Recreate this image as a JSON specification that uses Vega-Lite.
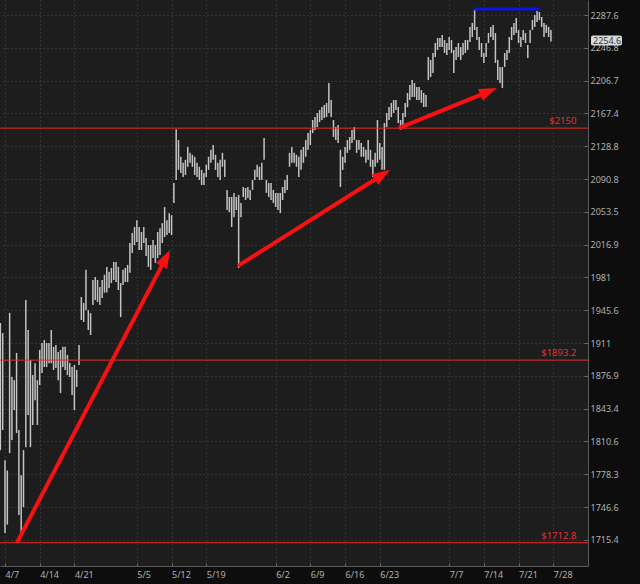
{
  "$schema": "https://vega.github.io/schema/vega-lite/v6.json",
  "width": 588,
  "height": 566,
  "autosize": {"type": "none"},
  "padding": {"left": 0, "top": 0, "right": 52, "bottom": 18},
  "background": "#0d0d0d",
  "config": {
    "view": {"fill": "#1d1d1d", "stroke": null},
    "font": "Noto Sans",
    "axis": {"labelFont": "Noto Sans", "labelFontSize": 9, "labelColor": "#b0b0b0", "domainColor": "#5a5a5a", "tickColor": "#6a6a6a", "gridColor": "#4a4a4a", "gridDash": [1, 3], "gridWidth": 1, "labelBound": false}
  },
  "datasets": {
    "bars": [
      {"i":-2,"h":1932,"l":1802},{"i":-1,"h":1921.5,"l":1822},{"i":0,"h":1792,"l":1722},{"i":1,"h":1782,"l":1730},{"i":2,"h":1943,"l":1799},{"i":3,"h":1875.7,"l":1812},{"i":4,"h":1872.5,"l":1842},{"i":5,"h":1900.7,"l":1819},{"i":6,"h":1822,"l":1739},{"i":7,"h":1777.5,"l":1722},{"i":8,"h":1802,"l":1746.6},{"i":9,"h":1956.6,"l":1805},{"i":10,"h":1924.7,"l":1837},{"i":11,"h":1893.4,"l":1805},{"i":12,"h":1877.8,"l":1827},{"i":13,"h":1890,"l":1852},{"i":14,"h":1872.5,"l":1827},{"i":15,"h":1903.8,"l":1867.5},{"i":16,"h":1911,"l":1880},{"i":17,"h":1914.2,"l":1886},{"i":18,"h":1911,"l":1886},{"i":19,"h":1911,"l":1890},{"i":20,"h":1924.7,"l":1890},{"i":21,"h":1907,"l":1883},{"i":22,"h":1909,"l":1885},{"i":23,"h":1901.7,"l":1872.5},{"i":24,"h":1903.8,"l":1859.4},{"i":25,"h":1907,"l":1886},{"i":26,"h":1907,"l":1883},{"i":27,"h":1898.6,"l":1877.8},{"i":28,"h":1890.3,"l":1875.7},{"i":29,"h":1886.1,"l":1857.3},{"i":30,"h":1888.2,"l":1842},{"i":31,"h":1883,"l":1865.5},{"i":32,"h":1909,"l":1888.2},{"i":33,"h":1959.8,"l":1935.3},{"i":34,"h":1953.4,"l":1933.2},{"i":35,"h":1989.3,"l":1945.8},{"i":36,"h":1945.8,"l":1924.7},{"i":37,"h":1942.6,"l":1919.4},{"i":38,"h":1978.2,"l":1951.2},{"i":39,"h":1981.4,"l":1956.6},{"i":40,"h":1978.2,"l":1954.4},{"i":41,"h":1970.6,"l":1951.2},{"i":42,"h":1978.2,"l":1958.8},{"i":43,"h":1983.9,"l":1964.6},{"i":44,"h":1992.5,"l":1964.6},{"i":45,"h":1987.1,"l":1969.5},{"i":46,"h":1991.4,"l":1974.9},{"i":47,"h":1997.9,"l":1978.2},{"i":48,"h":1997.9,"l":1976},{"i":49,"h":1992.5,"l":1967.4},{"i":50,"h":1975,"l":1938.4},{"i":51,"h":1989.3,"l":1972.8},{"i":52,"h":1991.4,"l":1976},{"i":53,"h":1994.7,"l":1976},{"i":54,"h":2018.7,"l":1986.1},{"i":55,"h":2029.8,"l":2007.7},{"i":56,"h":2036.5,"l":2016.5},{"i":57,"h":2044.2,"l":2019.8},{"i":58,"h":2036.5,"l":2011},{"i":59,"h":2031,"l":2011},{"i":60,"h":2036.5,"l":2018.7},{"i":61,"h":2024.2,"l":2004.5},{"i":62,"h":2016.5,"l":1992.5},{"i":63,"h":2016.5,"l":1989.3},{"i":64,"h":2022,"l":2002.3},{"i":65,"h":2016.5,"l":1996.9},{"i":66,"h":2031,"l":2002.3},{"i":67,"h":2035.3,"l":2005.6},{"i":68,"h":2040.9,"l":2018.7},{"i":69,"h":2058.9,"l":2025.3},{"i":70,"h":2044.2,"l":2027.6},{"i":71,"h":2052.1,"l":2029.8},{"i":72,"h":2049.8,"l":2027.6},{"i":73,"h":2086.3,"l":2063.6},{"i":74,"h":2148.8,"l":2089.7},{"i":75,"h":2136,"l":2101.4},{"i":76,"h":2116.5,"l":2097.8},{"i":77,"h":2109.5,"l":2093.2},{"i":78,"h":2113,"l":2095.5},{"i":79,"h":2127.9,"l":2104.9},{"i":80,"h":2121.1,"l":2109.5},{"i":81,"h":2118.8,"l":2104.9},{"i":82,"h":2116.5,"l":2095.5},{"i":83,"h":2109.5,"l":2093.2},{"i":84,"h":2104.9,"l":2089.7},{"i":85,"h":2101.4,"l":2084},{"i":86,"h":2097.8,"l":2084},{"i":87,"h":2107.2,"l":2093.2},{"i":88,"h":2116.5,"l":2101.4},{"i":89,"h":2124.6,"l":2109.5},{"i":90,"h":2130.2,"l":2113},{"i":91,"h":2118.8,"l":2101.4},{"i":92,"h":2109.5,"l":2093.2},{"i":93,"h":2113,"l":2089.7},{"i":94,"h":2121.1,"l":2104.9},{"i":95,"h":2113,"l":2093.2},{"i":96,"h":2078.4,"l":2055.6},{"i":97,"h":2070.4,"l":2053.3},{"i":98,"h":2070.4,"l":2036.5},{"i":99,"h":2074.9,"l":2047.5},{"i":100,"h":2070.4,"l":2055.6},{"i":101,"h":2072.7,"l":1991.4},{"i":102,"h":2063.6,"l":2047.5},{"i":103,"h":2081.7,"l":2070.4},{"i":104,"h":2080.6,"l":2067},{"i":105,"h":2081.7,"l":2069.3},{"i":106,"h":2078.4,"l":2067},{"i":107,"h":2089.7,"l":2078.4},{"i":108,"h":2101.4,"l":2089.7},{"i":109,"h":2107.2,"l":2093.2},{"i":110,"h":2104.9,"l":2089.7},{"i":111,"h":2109.5,"l":2089.7},{"i":112,"h":2138.4,"l":2113},{"i":113,"h":2089.7,"l":2075},{"i":114,"h":2086.3,"l":2070.4},{"i":115,"h":2086.3,"l":2067},{"i":116,"h":2078.4,"l":2063.6},{"i":117,"h":2074.9,"l":2059},{"i":118,"h":2074.9,"l":2055.6},{"i":119,"h":2074.9,"l":2052.1},{"i":120,"h":2081.7,"l":2067},{"i":121,"h":2089.7,"l":2075},{"i":122,"h":2095.5,"l":2078.4},{"i":123,"h":2121.1,"l":2104.9},{"i":124,"h":2127.9,"l":2109.5},{"i":125,"h":2121.1,"l":2109.5},{"i":126,"h":2118.8,"l":2104.9},{"i":127,"h":2116.5,"l":2093.2},{"i":128,"h":2124.6,"l":2101.4},{"i":129,"h":2127.9,"l":2109.5},{"i":130,"h":2136,"l":2116.5},{"i":131,"h":2144.2,"l":2124.6},{"i":132,"h":2147.8,"l":2130.2},{"i":133,"h":2159.6,"l":2144.2},{"i":134,"h":2163.1,"l":2147.8},{"i":135,"h":2167.9,"l":2151.3},{"i":136,"h":2171.5,"l":2157.2},{"i":137,"h":2175.1,"l":2159.6},{"i":138,"h":2177.5,"l":2162},{"i":139,"h":2179.9,"l":2163.1},{"i":140,"h":2203.8,"l":2167.9},{"i":141,"h":2183.4,"l":2163.1},{"i":142,"h":2159.6,"l":2139.6},{"i":143,"h":2151.3,"l":2136},{"i":144,"h":2153.7,"l":2132.5},{"i":145,"h":2124.6,"l":2081.7},{"i":146,"h":2116.5,"l":2101.4},{"i":147,"h":2127.9,"l":2109.5},{"i":148,"h":2136,"l":2121.1},{"i":149,"h":2139.6,"l":2124.6},{"i":150,"h":2147.8,"l":2132.5},{"i":151,"h":2151.3,"l":2136},{"i":152,"h":2136,"l":2121.1},{"i":153,"h":2136,"l":2124.6},{"i":154,"h":2132.5,"l":2116.5},{"i":155,"h":2127.9,"l":2116.5},{"i":156,"h":2124.6,"l":2109.5},{"i":157,"h":2136,"l":2113},{"i":158,"h":2124.6,"l":2104.9},{"i":159,"h":2113,"l":2093.2},{"i":160,"h":2121.1,"l":2104.9},{"i":161,"h":2159.6,"l":2109.5},{"i":162,"h":2132.5,"l":2113},{"i":163,"h":2127.9,"l":2101.4},{"i":164,"h":2156,"l":2101.4},{"i":165,"h":2167.9,"l":2151.3},{"i":166,"h":2175.1,"l":2159.6},{"i":167,"h":2179.9,"l":2163.1},{"i":168,"h":2183.4,"l":2167.9},{"i":169,"h":2183.4,"l":2171.5},{"i":170,"h":2175.1,"l":2156},{"i":171,"h":2159.6,"l":2147.8},{"i":172,"h":2167.9,"l":2151.3},{"i":173,"h":2179.9,"l":2163.1},{"i":174,"h":2191.8,"l":2174.8},{"i":175,"h":2201.4,"l":2183.4},{"i":176,"h":2207.4,"l":2187.1},{"i":177,"h":2203.8,"l":2187.1},{"i":178,"h":2199,"l":2183.4},{"i":179,"h":2199,"l":2183.4},{"i":180,"h":2195.4,"l":2179.9},{"i":181,"h":2191.8,"l":2175.1},{"i":182,"h":2189.4,"l":2175.1},{"i":183,"h":2235.5,"l":2207.4},{"i":184,"h":2231.9,"l":2211.2},{"i":185,"h":2240.4,"l":2216},{"i":186,"h":2252.7,"l":2235.5},{"i":187,"h":2258.9,"l":2244.1},{"i":188,"h":2258.9,"l":2247.7},{"i":189,"h":2262.6,"l":2247.7},{"i":190,"h":2256.4,"l":2240.5},{"i":191,"h":2252.7,"l":2238},{"i":192,"h":2260.1,"l":2244.1},{"i":193,"h":2256.4,"l":2240.5},{"i":194,"h":2244.1,"l":2216},{"i":195,"h":2247.7,"l":2231.9},{"i":196,"h":2252.7,"l":2235.5},{"i":197,"h":2247.7,"l":2231.9},{"i":198,"h":2252.7,"l":2238},{"i":199,"h":2256.4,"l":2240.5},{"i":200,"h":2256.4,"l":2244.1},{"i":201,"h":2272.7,"l":2253.9},{"i":202,"h":2277.7,"l":2260.1},{"i":203,"h":2293.8,"l":2268.9},{"i":204,"h":2272.7,"l":2256.4},{"i":205,"h":2260.1,"l":2244.1},{"i":206,"h":2252.7,"l":2235.5},{"i":207,"h":2240.5,"l":2228.3},{"i":208,"h":2252.7,"l":2235.5},{"i":209,"h":2265.1,"l":2252.7},{"i":210,"h":2272.7,"l":2260.1},{"i":211,"h":2275.2,"l":2256.4},{"i":212,"h":2265.1,"l":2228.3},{"i":213,"h":2231.9,"l":2207.4},{"i":214,"h":2223.3,"l":2203.8},{"i":215,"h":2223.3,"l":2197.8},{"i":216,"h":2240.5,"l":2223.3},{"i":217,"h":2244.1,"l":2231.9},{"i":218,"h":2260.1,"l":2240.5},{"i":219,"h":2272.7,"l":2256.4},{"i":220,"h":2277.7,"l":2262.6},{"i":221,"h":2283.9,"l":2265.1},{"i":222,"h":2268.9,"l":2252.7},{"i":223,"h":2260.1,"l":2247.7},{"i":224,"h":2268.9,"l":2256.4},{"i":225,"h":2265.1,"l":2252.7},{"i":226,"h":2250.2,"l":2234.3},{"i":227,"h":2268.9,"l":2252.7},{"i":228,"h":2281.4,"l":2268.9},{"i":229,"h":2287.6,"l":2272.7},{"i":230,"h":2292.6,"l":2278.9},{"i":231,"h":2291.3,"l":2281.4},{"i":232,"h":2285.1,"l":2272.7},{"i":233,"h":2277.7,"l":2260.1},{"i":234,"h":2275.2,"l":2265.1},{"i":235,"h":2272.7,"l":2260.1},{"i":236,"h":2268.9,"l":2254.6}
    ],
    "levels": [
      {"p": 2150, "lbl": "$2150"},
      {"p": 1893.2, "lbl": "$1893.2"},
      {"p": 1712.8, "lbl": "$1712.8"}
    ],
    "arrows": [
      {"i0": 5.2, "p0": 1713, "i1": 69.3, "p1": 2001.2, "ti": 71.3, "tp": 2011, "ang": 27.7},
      {"i0": 100.7, "p0": 1993.6, "i1": 162.8, "p1": 2095.1, "ti": 166.5, "tp": 2101.4, "ang": 57.7},
      {"i0": 170.3, "p0": 2150, "i1": 208.7, "p1": 2193.3, "ti": 212.7, "tp": 2197.8, "ang": 67.8}
    ],
    "blue": [{"i0": 202.8, "i1": 231.3, "p": 2295.1}],
    "last": [{"i": 252.02, "p": 2254.6, "lbl": "2254.6"}]
  },
  "layer": [
    {
      "data": {"name": "bars"},
      "mark": {"type": "rule", "color": "#c4c4c4", "strokeWidth": 1.5},
      "encoding": {
        "x": {
          "field": "i", "type": "quantitative",
          "scale": {"domain": [-2.16, 252.02], "nice": false, "zero": false},
          "axis": {
            "title": null, "orient": "bottom",
            "values": [0, 15, 30, 57, 72, 87, 117, 132, 147, 162, 192, 207, 222, 237],
            "labelExpr": "datum.value==0?'4/7':datum.value==15?'4/14':datum.value==30?'4/21':datum.value==57?'5/5':datum.value==72?'5/12':datum.value==87?'5/19':datum.value==117?'6/2':datum.value==132?'6/9':datum.value==147?'6/16':datum.value==162?'6/23':datum.value==192?'7/7':datum.value==207?'7/14':datum.value==222?'7/21':'7/28'",
            "labelAlign": "left", "labelFlush": false, "labelOverlap": false,
            "tickSize": -3, "labelPadding": 7, "grid": true
          }
        },
        "y": {
          "field": "l", "type": "quantitative",
          "scale": {"type": "log", "domain": [1691.1, 2306.5], "nice": false},
          "axis": {
            "title": null, "orient": "right",
            "values": [1715.4, 1746.6, 1778.3, 1810.6, 1843.4, 1876.9, 1911, 1945.6, 1981, 2016.9, 2053.5, 2090.8, 2128.8, 2167.4, 2206.7, 2246.8, 2287.6],
            "format": ".1~f", "labelFlush": false, "labelOverlap": false,
            "tickSize": -4, "labelPadding": 6, "grid": true
          }
        },
        "y2": {"field": "h"}
      }
    },
    {
      "data": {"name": "levels"},
      "mark": {"type": "rule", "color": "#f02828", "strokeWidth": 1},
      "encoding": {"y": {"field": "p", "type": "quantitative"}}
    },
    {
      "data": {"name": "levels"},
      "mark": {"type": "text", "align": "right", "baseline": "bottom", "dy": -2, "color": "#dd3535", "fontSize": 9.5, "font": "Noto Sans"},
      "encoding": {
        "x": {"datum": 247, "type": "quantitative"},
        "y": {"field": "p", "type": "quantitative"},
        "text": {"field": "lbl"}
      }
    },
    {
      "data": {"name": "blue"},
      "mark": {"type": "rule", "color": "#0a14e6", "strokeWidth": 3},
      "encoding": {
        "x": {"field": "i0", "type": "quantitative"},
        "x2": {"field": "i1"},
        "y": {"field": "p", "type": "quantitative"}
      }
    },
    {
      "data": {"name": "arrows"},
      "mark": {"type": "rule", "color": "#fa1010", "strokeWidth": 4, "strokeCap": "butt"},
      "encoding": {
        "x": {"field": "i0", "type": "quantitative"},
        "x2": {"field": "i1"},
        "y": {"field": "p0", "type": "quantitative"},
        "y2": {"field": "p1"}
      }
    },
    {
      "data": {"name": "arrows"},
      "mark": {"type": "point", "shape": "M0,0L0.7,2L-0.7,2Z", "filled": true, "size": 324, "color": "#fa1010", "opacity": 1, "strokeWidth": 0},
      "encoding": {
        "x": {"field": "ti", "type": "quantitative"},
        "y": {"field": "tp", "type": "quantitative"},
        "angle": {"field": "ang", "type": "quantitative", "scale": null}
      }
    },
    {
      "data": {"name": "last"},
      "mark": {"type": "rect", "color": "#d9d9d9", "xOffset": 3, "x2Offset": 34, "yOffset": -6, "y2Offset": 4, "cornerRadius": 2},
      "encoding": {
        "x": {"field": "i", "type": "quantitative"},
        "x2": {"field": "i"},
        "y": {"field": "p", "type": "quantitative"},
        "y2": {"field": "p"}
      }
    },
    {
      "data": {"name": "last"},
      "mark": {"type": "text", "align": "left", "baseline": "middle", "dx": 5, "dy": -1, "color": "#333333", "fontSize": 9, "font": "Noto Sans"},
      "encoding": {
        "x": {"field": "i", "type": "quantitative"},
        "y": {"field": "p", "type": "quantitative"},
        "text": {"field": "lbl"}
      }
    }
  ]
}
